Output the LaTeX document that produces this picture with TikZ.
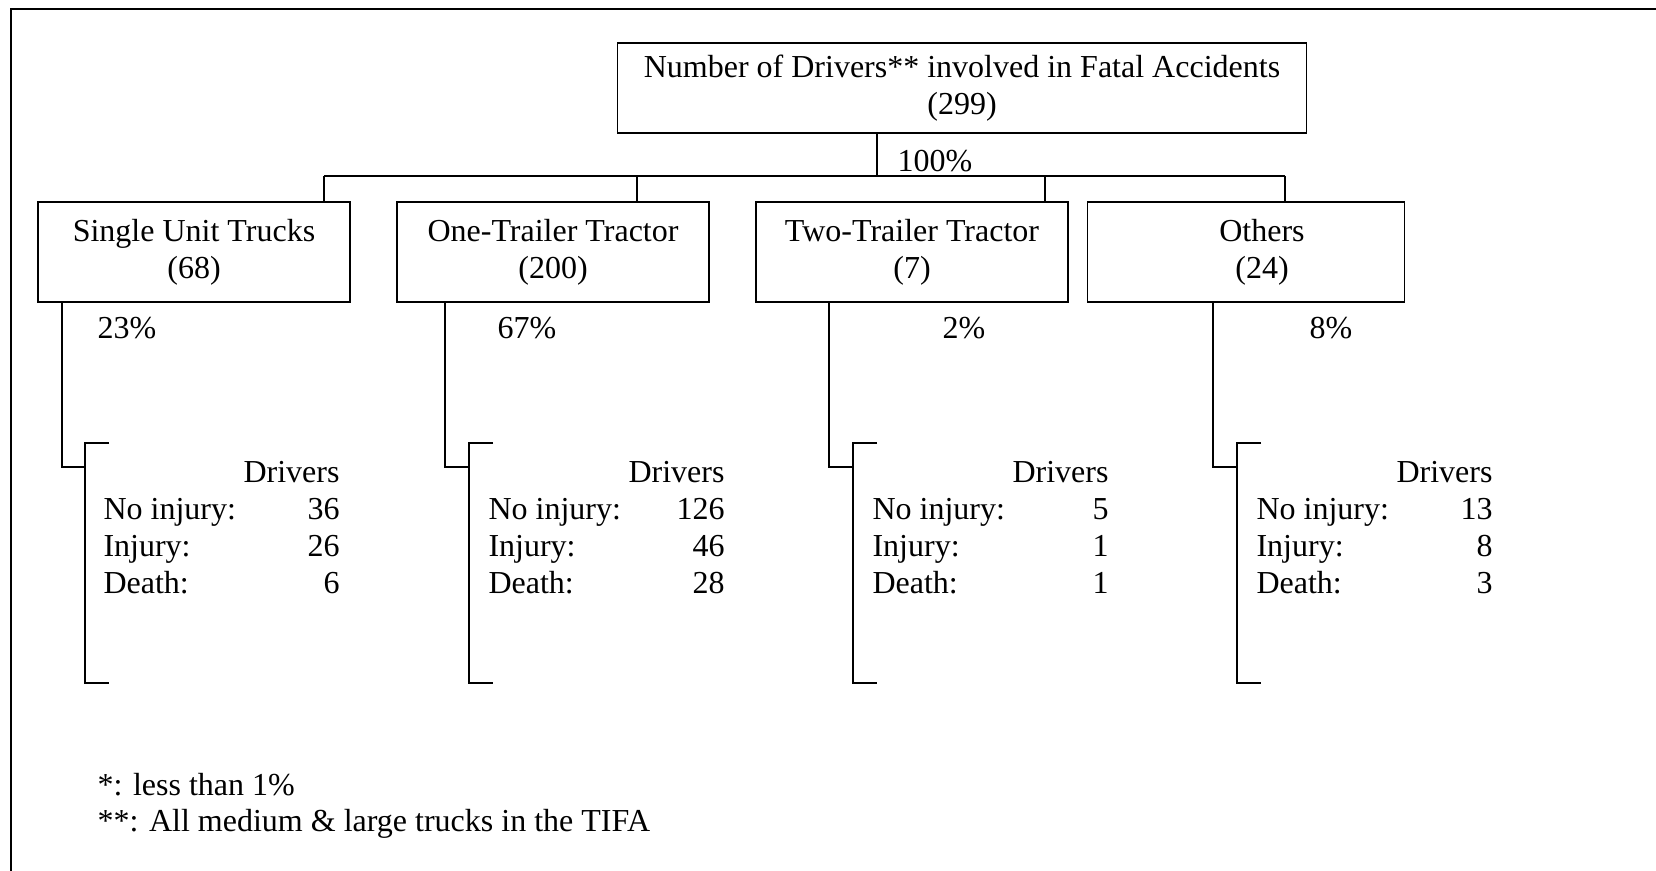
\documentclass[tikz,border=0pt]{standalone}
\usepackage{fontspec}
\setmainfont{Liberation Serif}
\usetikzlibrary{calc}
\tikzset{
  catbox/.style  = {draw, line width=0.6pt, minimum width=117pt,
                    minimum height=37.5pt, align=center, inner sep=0pt},
  topbox/.style  = {catbox, minimum width=258.4pt, minimum height=33.75pt},
  link/.style    = {line width=0.6pt},
  pctlbl/.style  = {anchor=base west, inner sep=0pt},
  tbl/.style     = {anchor=base west, inner sep=0pt},
  note/.style    = {anchor=base west, inner sep=0pt},
}
\newcommand\drvtable[3]{\begin{tabular}[t]{@{}p{52.5pt}@{}r@{}}
  & Drivers\\ No injury: & #1\\ Injury: & #2\\ Death: & #3\end{tabular}}

\begin{document}
\begin{tikzpicture}[x=0.375pt, y=-0.375pt,
    every node/.append style={font=\fontsize{12}{13.8}\selectfont}]
    \useasboundingbox (0,0) rectangle (1656,871);
    % frame
    \draw[line width=1pt] (11,871) -- (11,9) -- (1656,9);

    % Row 1 : total
    \node[topbox] (total) at (962,88) {Number of Drivers** involved in Fatal Accidents\\(299)};
    % Row 2 : truck types
    \node[catbox] (sut) at (194,252)  {Single Unit Trucks\\(68)};
    \node[catbox] (ott) at (553,252)  {One-Trailer Tractor\\(200)};
    \node[catbox] (twt) at (912,252)  {Two-Trailer Tractor\\(7)};
    \node[catbox, minimum width=119pt] (oth) at (1246,252)
      {\hspace*{12pt}Others\\\hspace*{12pt}(24)};

    \coordinate (t0) at (877,176);
    \coordinate (b1) at (324,176);
    \coordinate (b2) at (637,176);
    \coordinate (b3) at (1045,176);
    \coordinate (b4) at (1285,176);
    \draw[link] (t0 |- total.south) -- (t0);
    \draw[link] (b1) -- (b4);
    \foreach \b/\n in {b1/sut, b2/ott, b3/twt, b4/oth}
      \draw[link] (\b) -- (\b |- \n.north);
    \node[pctlbl] (p0) at (897,172) {100\%};

    % percentages
    \node[pctlbl] (psut) at (97,339)   {23\%};
    \node[pctlbl] (pott) at (497,339)  {67\%};
    \node[pctlbl] (ptwt) at (942,339)  {2\%};
    \node[pctlbl] (poth) at (1309,339) {8\%};

    % Row 3 : injury tables
    \node[tbl] (tsut) at (103,483)  {\drvtable{36}{26}{6}};
    \node[tbl] (tott) at (488,483)  {\drvtable{126}{46}{28}};
    \node[tbl] (ttwt) at (872,483)  {\drvtable{5}{1}{1}};
    \node[tbl] (toth) at (1256,483) {\drvtable{13}{8}{3}};

    \foreach \n/\d/\k in {sut/62/85, ott/445/469, twt/829/853, oth/1213/1237}{
      \draw[link] (\d,0 |- \n.south) -- (\d,467) -- (\k,467);
      \draw[link] (\k+24,443) -- (\k,443) -- (\k,683) -- (\k+24,683);
    }

    % notes
    \node[note] (n1) at (97,796) {*: less than 1\%};
    \node[note] (n2) at (97,832) {**: All medium \& large trucks in the TIFA};
\end{tikzpicture}
\end{document}
